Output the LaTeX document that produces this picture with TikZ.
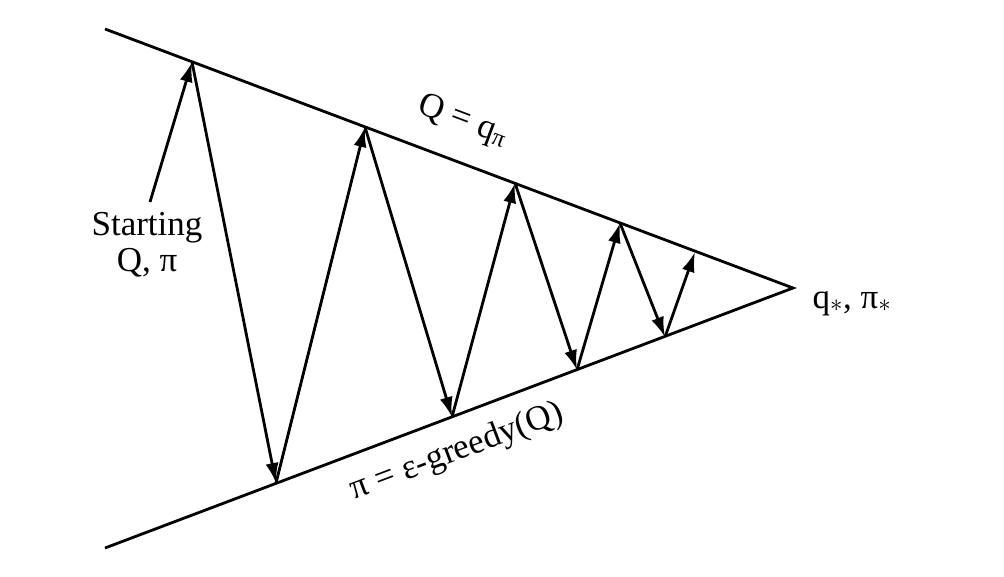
\documentclass[tikz,border=0pt]{standalone}
\usepackage{fontspec}
\setmainfont{Liberation Serif}
\usetikzlibrary{arrows.meta}

\begin{document}
\begin{tikzpicture}[x=1pt,y=-1pt,line width=2.8pt,>={Latex[length=20pt,width=13pt]},
  every node/.style={font=\fontsize{35}{36}\selectfont}]
\useasboundingbox (0,0) rectangle (1004,576);

\coordinate (top) at (105,29);
\coordinate (bot) at (105,548);
\coordinate (star) at (793,288);

\draw (top) -- (star) -- (bot);

\coordinate (t0) at (192,62);
\coordinate (b1) at (276,483);
\coordinate (t1) at (365,127);
\coordinate (b2) at (452,417);
\coordinate (t2) at (515,183);
\coordinate (b3) at (577,370);
\coordinate (t3) at (620,223);
\coordinate (b4) at (665,337);
\coordinate (t4) at (695,252);

\draw [->] (t0) -- (b1);
\draw [->] (b1) -- (t1);
\draw [->] (t1) -- (b2);
\draw [->] (b2) -- (t2);
\draw [->] (t2) -- (b3);
\draw [->] (b3) -- (t3);
\draw [->] (t3) -- (b4);
\draw [->] (b4) -- (t4);

\node (start) [align=center] at (147,245) {Starting\\Q, π};
\coordinate (tail) at (150,202);
\draw [->] (tail) -- (t0);

\node (qpi) [rotate=-20.6] at (463,121) {Q = q\textsubscript{π}};
\node (greedy) [rotate=20.7] at (457,452) {π = ε-greedy(Q)};
\node (opt) [anchor=base west] at (808,308) {q$_{\ast}$, π$_{\ast}$};
\end{tikzpicture}
\end{document}
